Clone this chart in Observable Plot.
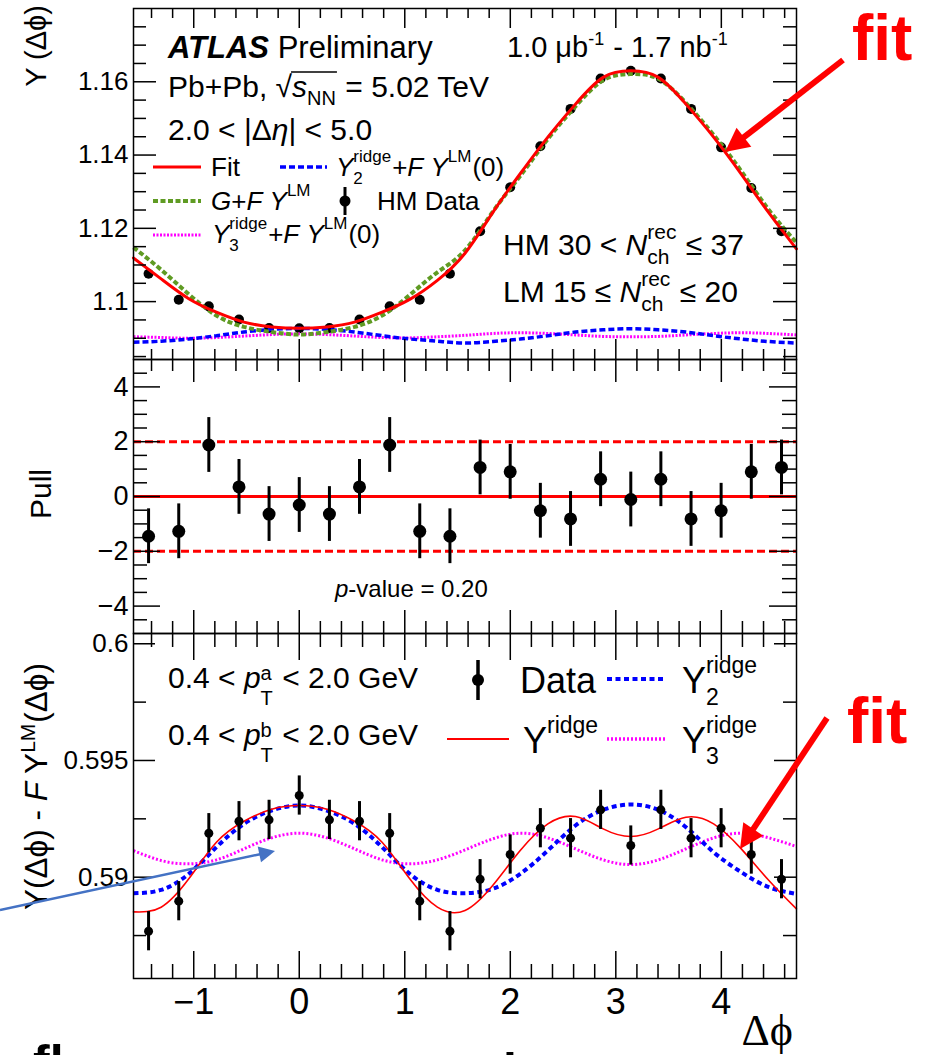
<!DOCTYPE html>
<html><head><meta charset="utf-8">
<script src="https://cdn.jsdelivr.net/npm/d3@7"></script>
<script src="https://cdn.jsdelivr.net/npm/@observablehq/plot@0.6"></script>
<style>
html,body{margin:0;padding:0;background:#fff;}
#root{position:relative;width:925px;height:1055px;overflow:hidden;}
</style></head><body><div id="root"></div>
<script>
// ---------------- data ----------------
const binCentres = [-1.428,-1.142,-0.857,-0.571,-0.286,0,0.286,0.571,0.857,1.142,1.428,1.714,1.999,2.285,2.571,2.856,3.142,3.427,3.713,3.998,4.284,4.570];
const hmData = [1.1076,1.1005,1.0987,1.0951,1.0928,1.0927,1.0928,1.0951,1.0987,1.1005,1.1076,1.1192,1.1312,1.1424,1.1526,1.1609,1.1630,1.1609,1.1526,1.1421,1.1310,1.1192];
const pullData = [-1.45,-1.27,1.88,0.35,-0.64,-0.31,-0.64,0.35,1.88,-1.27,-1.45,1.06,0.90,-0.52,-0.82,0.63,-0.11,0.63,-0.82,-0.52,0.90,1.06];
const pullErr = [1,1,1,1,1,1,1,1,1,1,1,1,1,1,1,1,1,1,1,1,1,1];
const ridgeData = [0.587686,0.588972,0.591885,0.592399,0.592456,0.593499,0.592456,0.592399,0.591885,0.588972,0.587686,0.589914,0.590971,0.592099,0.591671,0.592885,0.591357,0.592885,0.591671,0.592099,0.590971,0.589914];
const ridgeErr = [0.00084,0.00084,0.00084,0.00084,0.00084,0.00084,0.00084,0.00084,0.00084,0.00084,0.00084,0.00084,0.00084,0.00084,0.00084,0.00084,0.00084,0.00084,0.00084,0.00084,0.00084,0.00084];

const curveGrid = [-1.571,-1.309,-1.047,-0.785,-0.524,-0.262,0,0.262,0.524,0.785,1.047,1.309,1.571,1.833,2.094,2.356,2.618,2.880,3.142,3.403,3.665,3.927,4.189,4.451,4.712];
const fitTop = [1.1119,1.1062,1.1008,1.0971,1.0944,1.0931,1.0927,1.0931,1.0944,1.0971,1.1006,1.1058,1.1132,1.1243,1.1349,1.1449,1.1539,1.1612,1.1630,1.1612,1.1539,1.1449,1.1348,1.1242,1.1144];
const gTop = [1.1148,1.1087,1.1020,1.0962,1.0931,1.0917,1.0910,1.0917,1.0931,1.0962,1.1018,1.1080,1.1140,1.1245,1.1343,1.1444,1.1533,1.1604,1.1621,1.1608,1.1542,1.1455,1.1356,1.1250,1.1161];
const y2Top = [1.0889,1.0892,1.0898,1.0907,1.0917,1.0924,1.0927,1.0924,1.0917,1.0907,1.0898,1.0892,1.0887,1.0891,1.0898,1.0907,1.0917,1.0923,1.0926,1.0923,1.0917,1.0907,1.0898,1.0891,1.0887];
const y3Top = [1.0904,1.0902,1.0900,1.0902,1.0906,1.0910,1.0912,1.0910,1.0906,1.0902,1.0901,1.0904,1.0908,1.0913,1.0915,1.0913,1.0909,1.0905,1.0904,1.0905,1.0909,1.0913,1.0915,1.0913,1.0909];
const ridgeFit = [0.588515,0.588715,0.589929,0.591500,0.592399,0.592913,0.593071,0.592913,0.592399,0.591500,0.589929,0.588715,0.588572,0.589643,0.591143,0.592285,0.592599,0.592071,0.591742,0.592071,0.592571,0.592285,0.591214,0.589857,0.588643];
const ridgeY2 = [0.589314,0.589457,0.590143,0.591285,0.592285,0.592856,0.593071,0.592856,0.592285,0.591285,0.590143,0.589457,0.589314,0.589500,0.590143,0.591143,0.592214,0.592885,0.593113,0.592885,0.592142,0.591071,0.590214,0.589572,0.589286];
const ridgeY3 = [0.591143,0.590714,0.590571,0.590743,0.591214,0.591685,0.591885,0.591685,0.591214,0.590743,0.590571,0.590743,0.591171,0.591642,0.591885,0.591685,0.591214,0.590743,0.590543,0.590743,0.591214,0.591685,0.591885,0.591685,0.591314];

// ticks and tick labels
const xMajor = [-1,0,1,2,3,4];
const xMajorLabels = ["\u22121","0","1","2","3","4"];
const xMinor = [-1.4,-1.2,-0.8,-0.6,-0.4,-0.2,0.2,0.4,0.6,0.8,1.2,1.4,1.6,1.8,2.2,2.4,2.6,2.8,3.2,3.4,3.6,3.8,4.2,4.4,4.6];
const y1Major = [1.1,1.12,1.14,1.16];
const y1Labels = ["1.1","1.12","1.14","1.16"];
const y1Minor = [1.085,1.09,1.095,1.105,1.11,1.115,1.125,1.13,1.135,1.145,1.15,1.155,1.165,1.17,1.175];
const y2Major = [-4,-2,0,2,4];
const y2Labels = ["\u22124","\u22122","0","2","4"];
const y2Minor = [-4.5,-3.5,-3,-2.5,-1.5,-1,-0.5,0.5,1,1.5,2.5,3,3.5,4.5];
const y3Major = [0.59,0.595,0.6];
const y3Labels = ["0.59","0.595","0.6"];
const y3Minor = [0.5875,0.5925,0.5975];
const pullLines = [-2,2];

// ---------------- layout ----------------
const FONT = '"Liberation Sans", Arial, Helvetica, sans-serif';
const W = 925, ML = 133, MR = 129, IW = W - ML - MR;
const X_DOMAIN = [-Math.PI/2, 3*Math.PI/2];
const root = document.getElementById("root");

const hmRows = binCentres.map((x,i)=>({x, y: hmData[i]}));
const pullRows = binCentres.map((x,i)=>({x, y: pullData[i], e: pullErr[i]}));
const ridgeRows = binCentres.map((x,i)=>({x, y: ridgeData[i], e: ridgeErr[i]}));
const topCurves = curveGrid.map((x,i)=>({x, fit: fitTop[i], g: gTop[i], y2: y2Top[i], y3: y3Top[i]}));
const botCurves = curveGrid.map((x,i)=>({x, fit: ridgeFit[i], y2: ridgeY2[i], y3: ridgeY3[i]}));

function tickMarks(innerH, yMaj, yMin, L) {
  const s = {stroke: "black", strokeWidth: 1.5};
  return [
    Plot.tickX(xMajor, {...s, insetTop: innerH - L.xM}),
    Plot.tickX(xMajor, {...s, insetBottom: innerH - L.xM}),
    Plot.tickX(xMinor, {...s, insetTop: innerH - L.xm}),
    Plot.tickX(xMinor, {...s, insetBottom: innerH - L.xm}),
    Plot.tickY(yMaj, {...s, insetRight: IW - L.yM}),
    Plot.tickY(yMaj, {...s, insetLeft: IW - L.yM}),
    Plot.tickY(yMin, {...s, insetRight: IW - L.ym}),
    Plot.tickY(yMin, {...s, insetLeft: IW - L.ym}),
    Plot.frame({stroke: "black", strokeWidth: 1.5})
  ];
}
function place(svg, topPx) {
  svg.style.position = "absolute";
  svg.style.left = "0px";
  svg.style.top = topPx + "px";
  svg.style.overflow = "visible";
  svg.style.background = "transparent";
  root.append(svg);
}
const baseStyle = {fontFamily: FONT, fontSize: "26px", color: "black", background: "transparent", overflow: "visible"};
const fmt = (vals, labs) => { const m = new Map(vals.map((v,i)=>[v, labs[i]])); return d => m.get(d); };
const dashed = {strokeLinecap: "butt", strokeLinejoin: "miter", curve: "natural"};

// Panel 1
{
  const H = 359, MT = 8, MB = 0;
  const p = Plot.plot({
    width: W, height: H, marginLeft: ML, marginRight: MR, marginTop: MT, marginBottom: MB,
    x: {domain: X_DOMAIN, axis: null}, y: {domain: [1.0842, 1.18]},
    style: baseStyle,
    marks: [
      Plot.dot(hmRows, {x: "x", y: "y", r: 5, fill: "black"}),
      Plot.line(topCurves, {...dashed, x: "x", y: "y3", stroke: "#ff00ff", strokeWidth: 3, strokeDasharray: "2,1.5"}),
      Plot.line(topCurves, {...dashed, x: "x", y: "y2", stroke: "#0000ff", strokeWidth: 3.5, strokeDasharray: "6,3"}),
      Plot.line(topCurves, {...dashed, x: "x", y: "g", stroke: "#5f9b23", strokeWidth: 4, strokeDasharray: "5,2.5"}),
      Plot.line(topCurves, {x: "x", y: "fit", curve: "natural", stroke: "#ff0000", strokeWidth: 3}),
      ...tickMarks(H - MT - MB, y1Major, y1Minor, {xM: 20, xm: 10, yM: 23, ym: 13}),
      Plot.axisY(y1Major, {anchor: "left", tickSize: 0, tickPadding: 5, tickFormat: fmt(y1Major, y1Labels), fontSize: 26, label: null})
    ]
  });
  place(p, 0);
}
// Panel 2
{
  const H = 274, MT = 0, MB = 0;
  const p = Plot.plot({
    width: W, height: H, marginLeft: ML, marginRight: MR, marginTop: MT, marginBottom: MB,
    x: {domain: X_DOMAIN, axis: null}, y: {domain: [-5, 5]},
    style: baseStyle,
    marks: [
      Plot.ruleY([0], {stroke: "#ff0000", strokeWidth: 3}),
      Plot.ruleY(pullLines, {stroke: "#ff0000", strokeWidth: 3, strokeDasharray: "8,4", strokeLinecap: "butt"}),
      Plot.ruleX(pullRows, {x: "x", y1: d => d.y - d.e, y2: d => d.y + d.e, stroke: "black", strokeWidth: 3}),
      Plot.dot(pullRows, {x: "x", y: "y", r: 6.5, fill: "black"}),
      ...tickMarks(H - MT - MB, y2Major, y2Minor, {xM: 23, xm: 12, yM: 27, ym: 14}),
      Plot.axisY(y2Major, {anchor: "left", tickSize: 0, tickPadding: 5, tickFormat: fmt(y2Major, y2Labels), fontSize: 27, label: null})
    ]
  });
  place(p, 359);
}
// Panel 3
{
  const H = 422, MT = 0, MB = 77;
  const p = Plot.plot({
    width: W, height: H, marginLeft: ML, marginRight: MR, marginTop: MT, marginBottom: MB,
    x: {domain: X_DOMAIN}, y: {domain: [0.58566, 0.60044]},
    style: baseStyle,
    marks: [
      Plot.line(botCurves, {...dashed, x: "x", y: "y3", stroke: "#ff00ff", strokeWidth: 3, strokeDasharray: "2,2"}),
      Plot.line(botCurves, {...dashed, x: "x", y: "y2", stroke: "#0000ff", strokeWidth: 4, strokeDasharray: "5,3.5"}),
      Plot.line(botCurves, {x: "x", y: "fit", curve: "natural", stroke: "#ff0000", strokeWidth: 1.6}),
      Plot.ruleX(ridgeRows, {x: "x", y1: d => d.y - d.e, y2: d => d.y + d.e, stroke: "black", strokeWidth: 3}),
      Plot.dot(ridgeRows, {x: "x", y: "y", r: 4.5, fill: "black"}),
      ...tickMarks(H - MT - MB, y3Major, y3Minor, {xM: 27, xm: 14, yM: 22, ym: 13}),
      Plot.axisY(y3Major, {anchor: "left", tickSize: 0, tickPadding: 5, tickFormat: fmt(y3Major, y3Labels), fontSize: 26, label: null}),
      Plot.axisX(xMajor, {anchor: "bottom", tickSize: 0, tickPadding: 10, tickFormat: fmt(xMajor, xMajorLabels), fontSize: 36, label: null})
    ]
  });
  place(p, 633);
}

// ---------------- overlay: texts, legends, annotations ----------------
const ov = d3.create("svg").attr("width", W).attr("height", 1055)
  .style("position", "absolute").style("left", "0px").style("top", "0px").style("overflow", "hidden");
root.append(ov.node());

function mkText(g, x, y, str, size, o = {}) {
  return g.append("text").attr("x", x).attr("y", y).attr("font-size", size)
    .attr("font-family", o.fam || FONT).attr("font-style", o.i ? "italic" : "normal")
    .attr("font-weight", o.b ? "bold" : "normal").attr("fill", o.fill || "black")
    .style("white-space", "pre").text(str);
}
function rich(g, x, y, parts, o) {
  let cx = x; const pos = {};
  for (const p of parts) {
    if (p.mark) { pos[p.mark] = cx; continue; }
    if (p.sup != null || p.sub != null) {
      let w = 0;
      if (p.sup != null) w = Math.max(w, mkText(g, cx, y - o.up, p.sup, o.small, {fill: o.fill}).node().getComputedTextLength());
      if (p.sub != null) w = Math.max(w, mkText(g, cx, y + o.down, p.sub, o.small, {fill: o.fill}).node().getComputedTextLength());
      cx += w + 1;
    } else {
      const t = mkText(g, cx, y, p.t, p.size || o.size, {i: p.i, b: p.b, fam: p.fam || o.fam, fill: o.fill});
      cx += t.node().getComputedTextLength();
    }
  }
  return {w: cx - x, pos};
}
function legLine(g, x1, x2, y, color, w, dash) {
  const l = g.append("line").attr("x1", x1).attr("x2", x2).attr("y1", y).attr("y2", y)
    .attr("stroke", color).attr("stroke-width", w);
  if (dash) l.attr("stroke-dasharray", dash);
}
function legPoint(g, x, y, r, half, w) {
  g.append("line").attr("x1", x).attr("x2", x).attr("y1", y - half).attr("y2", y + half).attr("stroke", "black").attr("stroke-width", w);
  g.append("circle").attr("cx", x).attr("cy", y).attr("r", r).attr("fill", "black");
}
function arrow(g, x1, y1, x2, y2, color, w, hl, hw) {
  const dx = x2 - x1, dy = y2 - y1, L = Math.hypot(dx, dy), ux = dx / L, uy = dy / L;
  const bx = x2 - ux * hl, by = y2 - uy * hl;
  g.append("line").attr("x1", x1).attr("y1", y1).attr("x2", bx + ux * 2).attr("y2", by + uy * 2)
    .attr("stroke", color).attr("stroke-width", w);
  g.append("path").attr("d", `M${x2},${y2}L${bx - uy * hw},${by + ux * hw}L${bx + uy * hw},${by - ux * hw}Z`).attr("fill", color);
}
function vtitle(parts, baseX, o, anchor) {
  const g = ov.append("g");
  const r = rich(g, 0, 0, parts, o);
  const start = anchor.end != null ? anchor.end + r.w : anchor.center + r.w / 2;
  g.attr("transform", `translate(${baseX},${start}) rotate(-90)`);
}

// Panel 1 texts
rich(ov, 168, 58, [{t: "ATLAS", b: true, i: true}, {t: " Preliminary"}], {size: 31});
rich(ov, 507, 57, [{t: "1.0 \u03bcb"}, {sup: "-1"}, {t: " - 1.7 nb"}, {sup: "-1"}], {size: 29, small: 18, up: 12, down: 8});
{
  const r = rich(ov, 168, 97, [{t: "Pb+Pb, "}, {t: "\u221a"}, {mark: "a"}, {t: "s", i: true}, {sub: "NN"}, {mark: "b"}, {t: " = 5.02 TeV"}], {size: 30, small: 20, up: 12, down: 8});
  ov.append("line").attr("x1", r.pos.a - 1).attr("x2", r.pos.b).attr("y1", 72).attr("y2", 72).attr("stroke", "black").attr("stroke-width", 1.3);
}
rich(ov, 168, 140, [{t: "2.0 < |\u0394"}, {t: "\u03b7", i: true}, {t: "| < 5.0"}], {size: 30});
// legend top
const L1 = {size: 26, small: 17, up: 14, down: 8};
legLine(ov, 153, 201, 167, "#ff0000", 3);
rich(ov, 211, 176, [{t: "Fit"}], L1);
legLine(ov, 280, 327, 167, "#0000ff", 3.5, "6,3");
rich(ov, 336, 176, [{t: "Y", i: true}, {sup: "ridge", sub: "2"}, {t: "+"}, {t: "F", i: true}, {t: " "}, {t: "Y", i: true}, {sup: "LM"}, {t: "(0)"}], L1);
legLine(ov, 153, 201, 201, "#5f9b23", 4, "5,2.5");
rich(ov, 211, 210, [{t: "G", i: true}, {t: "+"}, {t: "F", i: true}, {t: " "}, {t: "Y", i: true}, {sup: "LM"}], L1);
legPoint(ov, 345, 201, 5.5, 14, 3);
rich(ov, 377, 210, [{t: "HM Data"}], L1);
legLine(ov, 153, 201, 235, "#ff00ff", 3, "2,1.5");
rich(ov, 212, 243, [{t: "Y", i: true}, {sup: "ridge", sub: "3"}, {t: "+"}, {t: "F", i: true}, {t: " "}, {t: "Y", i: true}, {sup: "LM"}, {t: "(0)"}], L1);
const NT = {size: 30, small: 21, up: 16, down: 9};
rich(ov, 503, 255, [{t: "HM 30 < "}, {t: "N", i: true}, {sup: "rec", sub: "ch"}, {t: " \u2264 37"}], NT);
rich(ov, 503, 302, [{t: "LM 15 \u2264 "}, {t: "N", i: true}, {sup: "rec", sub: "ch"}, {t: " \u2264 20"}], NT);

// Panel 2 text
rich(ov, 335, 597, [{t: "p", i: true}, {t: "-value = 0.20"}], {size: 24});

// Panel 3 texts
const PT = {size: 30, small: 20, up: 8, down: 17};
rich(ov, 168, 688, [{t: "0.4 < "}, {t: "p", i: true}, {sup: "a", sub: "T"}, {t: " < 2.0 GeV"}], PT);
rich(ov, 168, 745, [{t: "0.4 < "}, {t: "p", i: true}, {sup: "b", sub: "T"}, {t: " < 2.0 GeV"}], PT);
const L3 = {size: 36, small: 23, up: 20, down: 12};
legPoint(ov, 478, 680, 6, 20, 3.5);
rich(ov, 520, 693, [{t: "Data"}], L3);
legLine(ov, 607, 666, 679, "#0000ff", 4, "5,3.5");
rich(ov, 682, 693, [{t: "Y"}, {sup: "ridge", sub: "2"}], L3);
legLine(ov, 447, 509, 739, "#ff0000", 2);
rich(ov, 523, 753, [{t: "Y"}, {sup: "ridge"}], L3);
legLine(ov, 607, 667, 739, "#ff00ff", 3.5, "2,2");
rich(ov, 682, 753, [{t: "Y"}, {sup: "ridge", sub: "3"}], {...L3, down: 11});

// axis titles
vtitle([{t: "Y (\u0394\u03d5)"}], 46, {size: 29, small: 20, up: 11, down: 8}, {end: 5});
vtitle([{t: "Pull"}], 51, {size: 30, small: 20, up: 11, down: 8}, {center: 494});
vtitle([{t: "Y(\u0394\u03d5) - "}, {t: "F", i: true}, {t: " Y"}, {sup: "LM"}, {t: "(\u0394\u03d5)"}], 47, {size: 31.5, small: 21, up: 12, down: 8}, {end: 663});
mkText(ov, 793, 1045, "\u0394\u03d5", 44, {fam: '"Liberation Serif", "Times New Roman", serif'}).attr("text-anchor", "end");

// slide annotations
mkText(ov, 852, 60, "fit", 64, {b: true, fill: "#ff0000"});
mkText(ov, 847, 743, "fit", 64, {b: true, fill: "#ff0000"});
arrow(ov, 843, 60, 725, 152, "#ff0000", 6, 24, 12);
arrow(ov, 827, 718, 740, 849, "#ff0000", 6, 24, 12);
arrow(ov, 0, 910, 275, 851, "#4472c4", 2.5, 16, 8);
mkText(ov, 33, 1080, "fl", 50, {b: true});
mkText(ov, 503, 1088, "i", 50, {b: true});
</script>
</body></html>
